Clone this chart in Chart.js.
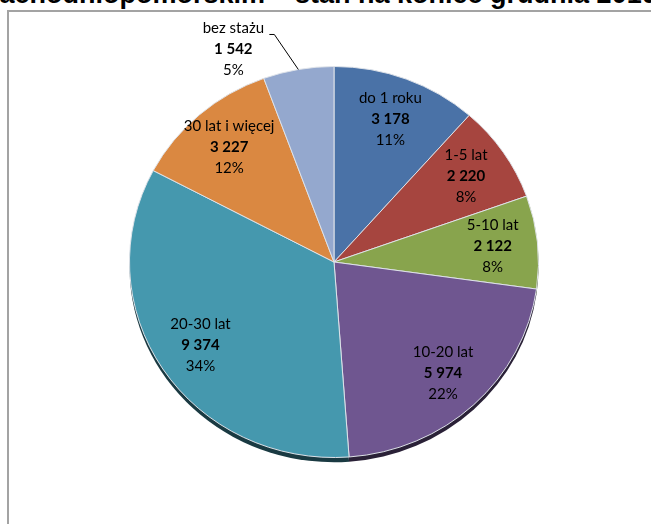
<!DOCTYPE html>
<html>
<head>
<meta charset="utf-8">
<script src="https://cdn.jsdelivr.net/npm/chart.js@4.4.1/dist/chart.umd.min.js"></script>
<style>
  html, body { margin: 0; padding: 0; background: #fff; overflow: hidden; }
  #wrap { position: relative; width: 651px; height: 524px; overflow: hidden; }
  #frame { position: absolute; left: 7px; top: 10px; width: 700px; height: 600px; border: 2px solid #a3a3a3; }
  #title { position: absolute; left: -14px; top: -24px; white-space: nowrap;
           font: bold 27px "Liberation Sans", Arial, sans-serif; color: #000; line-height: 36px; }
  canvas { position: absolute; left: 0; top: 0; }
</style>
</head>
<body>
<div id="wrap">
  <div id="frame"></div>
  <div id="title">zachodniopomorskim – stan na koniec grudnia 2010</div>
  <canvas id="myChart" width="651" height="524"></canvas>
</div>
<script>
const categories = ['do 1 roku', '1-5 lat', '5-10 lat', '10-20 lat', '20-30 lat', '30 lat i więcej', 'bez stażu'];
const values = [3178, 2220, 2122, 5974, 9374, 3227, 1542];
const percents = [11, 8, 8, 22, 34, 12, 5];
const sliceColors = ['#4a72a7', '#a6453f', '#88a44d', '#6f5690', '#4598ae', '#da8841', '#94a8ce'];

const SQ = 196 / 205;   // pie is a bit flatter than round
const LABEL_R = 0.78;

function darken(hex, k) {
    const n = parseInt(hex.slice(1), 16);
    const r = Math.round(((n >> 16) & 255) * k);
    const g = Math.round(((n >> 8) & 255) * k);
    const b = Math.round((n & 255) * k);
    return 'rgb(' + r + ',' + g + ',' + b + ')';
}

function fmt(v) {
    return String(v).replace(/\B(?=(\d{3})+(?!\d))/g, ' ');
}

// squash the pie vertically + draw the dark rim underneath
const squash = {
    id: 'squash',
    beforeDatasetsDraw(chart) {
        const ctx = chart.ctx;
        const arcs = chart.getDatasetMeta(0).data;
        const cx = arcs[0].x, cy = arcs[0].y;
        ctx.save();
        ctx.translate(cx, cy);
        ctx.scale(1, SQ);
        ctx.translate(-cx, -cy);
        arcs.forEach((a, i) => {
            ctx.beginPath();
            ctx.moveTo(a.x, a.y + 5);
            ctx.arc(a.x, a.y + 5, a.outerRadius, a.startAngle, a.endAngle);
            ctx.closePath();
            ctx.fillStyle = darken(sliceColors[i], 0.38);
            ctx.fill();
        });
    },
    afterDatasetsDraw(chart) {
        chart.ctx.restore();
    }
};

const sliceLabels = {
    id: 'sliceLabels',
    afterDraw(chart) {
        const ctx = chart.ctx;
        const arcs = chart.getDatasetMeta(0).data;
        ctx.save();
        ctx.textAlign = 'center';
        ctx.textBaseline = 'middle';
        ctx.fillStyle = '#000';
        arcs.forEach((a, i) => {
            let x, y;
            const mid = (a.startAngle + a.endAngle) / 2;
            if (i < arcs.length - 1) {
                x = a.x + Math.cos(mid) * a.outerRadius * LABEL_R;
                y = a.y + Math.sin(mid) * a.outerRadius * LABEL_R * SQ;
            } else {
                // small slice: label outside with a leader line
                const ex = a.x + Math.cos(mid) * a.outerRadius;
                const ey = a.y + Math.sin(mid) * a.outerRadius * SQ;
                x = ex - 65;
                y = ey - 20;
                ctx.beginPath();
                ctx.moveTo(ex, ey);
                ctx.lineTo(ex - 24, ey - 35);
                ctx.lineTo(ex - 29, ey - 35);
                ctx.strokeStyle = '#000';
                ctx.lineWidth = 1;
                ctx.stroke();
            }
            ctx.font = '15px Lato';
            ctx.fillText(categories[i], x, y - 21);
            ctx.font = 'bold 15px Lato';
            ctx.fillText(fmt(values[i]), x, y);
            ctx.font = '15px Lato';
            ctx.fillText(percents[i] + '%', x, y + 21);
        });
        ctx.restore();
    }
};

new Chart('myChart', {
    type: 'pie',
    data: {
        labels: categories,
        datasets: [{
            data: values,
            backgroundColor: sliceColors,
            borderColor: '#dfe3ea',
            borderWidth: 1
        }]
    },
    options: {
        responsive: false,
        animation: false,
        layout: { padding: { top: 57, bottom: 57, left: 129, right: 112 } },
        plugins: {
            legend: { display: false },
            tooltip: { enabled: false }
        }
    },
    plugins: [squash, sliceLabels]
});
</script>
</body>
</html>
